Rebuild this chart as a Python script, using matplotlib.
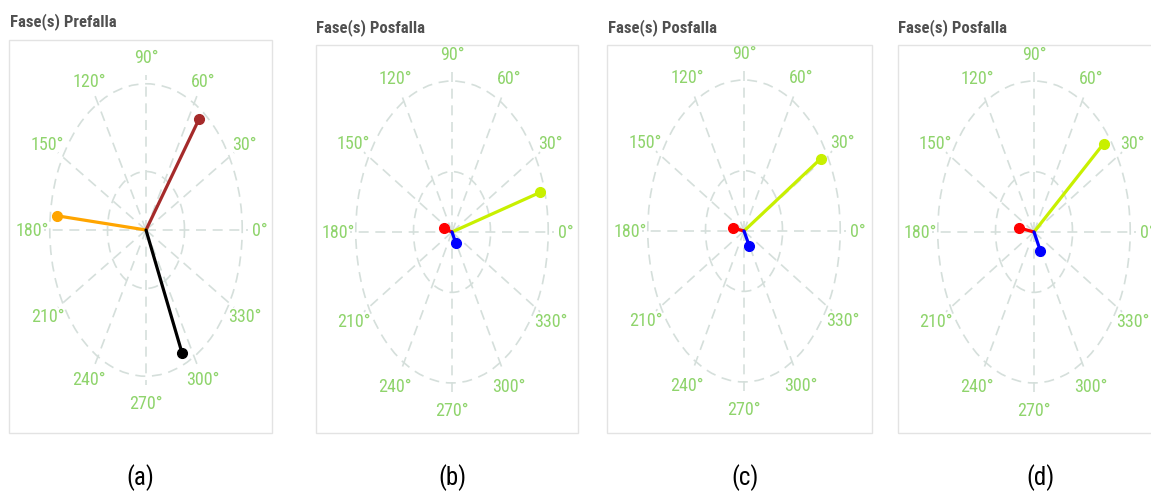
import numpy as np
import matplotlib
matplotlib.use('Agg')
import matplotlib.pyplot as plt
from matplotlib import font_manager
from matplotlib.patches import Rectangle

W, H = 1151, 502

titles = ['Fase(s) Prefalla', 'Fase(s) Posfalla', 'Fase(s) Posfalla', 'Fase(s) Posfalla']
sublabels = ['(a)', '(b)', '(c)', '(d)']
grid_angles = list(range(0, 360, 30))
grid_labels = ['{}°'.format(a) for a in grid_angles]

# phasors: angle (deg) and magnitude
pre_angles = [54, 174, 294]
pre_mags = [0.94, 0.93, 0.92]
pre_colors = ['#a52a2a', '#ffa500', '#000000']

post_angles = [[16, 165, 298], [31, 170, 299], [39, 170, 298]]
post_mags = [[0.95, 0.09, 0.08], [0.93, 0.12, 0.115], [0.93, 0.155, 0.14]]
post_colors = ['#c8f000', '#ff0000', '#0000ff']


def pick_font(names):
    for n in names:
        try:
            font_manager.findfont(n, fallback_to_default=False)
            return n
        except Exception:
            pass
    return 'DejaVu Sans'


narrow = pick_font(['Liberation Sans Narrow', 'Arial Narrow', 'Roboto Condensed',
                    'Archivo Narrow', 'PT Sans Narrow', 'Open Sans Condensed',
                    'Fira Sans Condensed', 'Roboto'])

# layout in pixels (from top-left)
centers = [(146, 231), (452, 233), (744, 232), (1034, 233)]
rx = 102
ry = [155, 160, 160, 160]
frames = [(9, 41, 272, 434), (316, 46, 578, 434), (607, 46, 872, 434), (898, 46, 1165, 434)]
title_pos = [(10, 22), (316, 28), (608, 28), (898, 28)]
sub_pos = [(140, 478), (452, 478), (745, 478), (1040, 478)]

fig = plt.figure(figsize=(W / 100, H / 100), dpi=100)

for i in range(4):
    # panel frame
    x0, y0, x1, y1 = frames[i]
    fig.add_artist(Rectangle((x0 / W, 1 - y1 / H), (x1 - x0) / W, (y1 - y0) / H,
                             transform=fig.transFigure, fill=False,
                             edgecolor='#e3e3e3', linewidth=1.0))
    fig.text(title_pos[i][0] / W, 1 - title_pos[i][1] / H, titles[i],
             family=narrow, fontsize=12, weight='semibold', color='#505050',
             ha='left', va='center')
    fig.text(sub_pos[i][0] / W, 1 - sub_pos[i][1] / H, sublabels[i],
             family=narrow, fontsize=18, color='black', ha='center', va='center')

    cx, cy = centers[i]
    ax = fig.add_axes([(cx - rx) / W, 1 - (cy + ry[i]) / H, 2 * rx / W, 2 * ry[i] / H],
                      projection='polar')
    ax.set_aspect('auto')
    ax.patch.set_alpha(0)
    ax.spines['polar'].set_visible(False)
    ax.set_rlim(0, 1.06)
    ax.set_rticks([0.4, 1.0])
    ax.set_yticklabels([])
    ax.set_thetagrids(grid_angles, [''] * len(grid_angles))
    ax.grid(True, color='#d5dfdb', linestyle=(0, (6, 4)), linewidth=1.2)
    ax.tick_params(length=0)
    for a, lab in zip(grid_angles, grid_labels):
        ax.text(np.deg2rad(a), 1.18, lab, family=narrow, fontsize=13,
                color='#8fd46c', ha='center', va='center', clip_on=False)

    if i == 0:
        angs, mags, cols = pre_angles, pre_mags, pre_colors
    else:
        angs, mags, cols = post_angles[i - 1], post_mags[i - 1], post_colors
    for a, m, c in zip(angs, mags, cols):
        th = np.deg2rad(a)
        ax.plot([th, th], [0, m], color=c, linewidth=2.3, marker='o',
                markersize=7, markevery=[1], solid_capstyle='round', zorder=5)

fig.savefig('out.png', dpi=100)
